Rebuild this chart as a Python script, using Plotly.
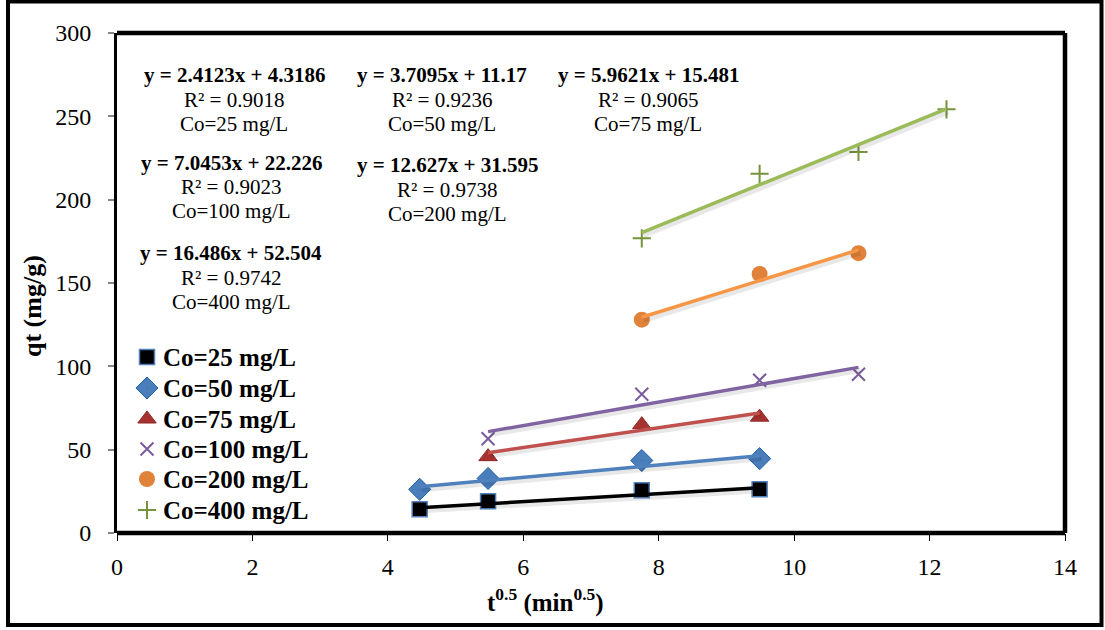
import plotly.graph_objects as go

# ---- data -------------------------------------------------------------
series_names = ["Co=25 mg/L", "Co=50 mg/L", "Co=75 mg/L",
                "Co=100 mg/L", "Co=200 mg/L", "Co=400 mg/L"]

x_25 = [4.47, 5.48, 7.75, 9.49]
y_25 = [14.3, 19.0, 25.6, 26.2]
x_50 = [4.47, 5.48, 7.75, 9.49]
y_50 = [26.2, 32.7, 43.5, 44.6]
x_75 = [5.48, 7.75, 9.49]
y_75 = [45.8, 65.0, 69.5]
x_100 = [5.48, 7.75, 9.49, 10.95]
y_100 = [56.5, 83.3, 91.7, 95.2]
x_200 = [7.75, 9.49, 10.95]
y_200 = [128.0, 155.4, 167.9]
x_400 = [7.75, 9.49, 10.95, 12.25]
y_400 = [176.8, 215.5, 228.6, 254.2]

slopes = [2.4123, 3.7095, 5.9621, 7.0453, 12.627, 16.486]
intercepts = [4.3186, 11.17, 15.481, 22.226, 31.595, 52.504]
r_squared = [0.9018, 0.9236, 0.9065, 0.9023, 0.9738, 0.9742]

x_ticks = [0, 2, 4, 6, 8, 10, 12, 14]
y_ticks = [0, 50, 100, 150, 200, 250, 300]

# ---- styling ----------------------------------------------------------
xs = [x_25, x_50, x_75, x_100, x_200, x_400]
ys = [y_25, y_50, y_75, y_100, y_200, y_400]
line_colors = ["#000000", "#4F81BD", "#C0504D", "#8064A2", "#F79646", "#9BBB59"]
markers = [
    dict(symbol="square", size=15, color="#000000", line=dict(color="#4F81BD", width=1.5)),
    dict(symbol="diamond-dot", size=17, color="#4A7EBB", line=dict(color="#1F5FA8", width=1)),
    dict(symbol="triangle-up", size=16, color="#A8322F", line=dict(color="#8C2623", width=1)),
    dict(symbol="x-thin", size=13, color="#7A5C9C", line=dict(color="#7A5C9C", width=2)),
    dict(symbol="circle", size=16, color="#E0823A", line=dict(color="#E0823A", width=0)),
    dict(symbol="cross-thin", size=13, color="#77933C", line=dict(color="#77933C", width=2)),
]

serif = "Liberation Serif, Times New Roman, serif"

# plot-area geometry in pixels
W, H = 1105, 630
L, R, T, B = 117, 40, 33, 97
PW, PH = W - L - R, H - T - B
X_MAX, Y_MAX = 14, 300


def px_to_paper(px, py):
    return (px - L) / PW, (H - B - py) / PH


fig = go.Figure()

# measured points
for name, x, y, mk in zip(series_names, xs, ys, markers):
    fig.add_trace(go.Scatter(x=x, y=y, mode="markers", name=name, marker=mk,
                             showlegend=False, cliponaxis=False))

# linear trendlines with a soft drop shadow
dx = 2 * X_MAX / PW
dy = -3 * Y_MAX / PH
for x, m, c, col in zip(xs, slopes, intercepts, line_colors):
    xl = [min(x), max(x)]
    yl = [m * v + c for v in xl]
    fig.add_trace(go.Scatter(x=[v + dx for v in xl], y=[v + dy for v in yl],
                             mode="lines", line=dict(color="rgba(0,0,0,0.09)", width=5),
                             showlegend=False, hoverinfo="skip"))
    fig.add_trace(go.Scatter(x=xl, y=yl, mode="lines",
                             line=dict(color=col, width=3.5),
                             showlegend=False, hoverinfo="skip"))

# legend: symbol swatches on a pixel-space overlay, labels as text
legend_rows = [357, 388, 419, 449, 479, 510]
legend_sym_x = 147
legend_txt_x = 161
for name, mk, ry in zip(series_names, markers, legend_rows):
    fig.add_trace(go.Scatter(x=[legend_sym_x - L], y=[H - B - ry], mode="markers",
                             marker=mk, xaxis="x2", yaxis="y2", showlegend=False,
                             hoverinfo="skip", cliponaxis=False))
    ax, ay = px_to_paper(legend_txt_x, ry)
    fig.add_annotation(x=ax, y=ay, xref="paper", yref="paper", text=f"<b>{name}</b>",
                       showarrow=False, xanchor="left", yanchor="middle",
                       font=dict(family=serif, size=25, color="#000000"))

# trendline equations
label_pos = [(234, [75, 100, 124]), (442, [75, 100, 124]), (648, [75, 100, 124]),
             (231, [163, 187, 211]), (447, [165, 190, 214]), (231, [253, 278, 302])]
for name, m, c, r2, (cx, rows) in zip(series_names, slopes, intercepts, r_squared, label_pos):
    texts = [f"<b>y = {m:g}x + {c:g}</b>", f"R² = {r2:g}", name]
    for txt, ry in zip(texts, rows):
        ax, ay = px_to_paper(cx, ry)
        fig.add_annotation(x=ax, y=ay, xref="paper", yref="paper", text=txt,
                           showarrow=False, xanchor="center", yanchor="middle",
                           font=dict(family=serif, size=21, color="#000000"))

# axis titles
tx, ty = px_to_paper(545, 600)
fig.add_annotation(x=tx, y=ty, xref="paper", yref="paper",
                   text="<b>t<sup>0.5</sup> (min<sup>0.5</sup>)</b>", showarrow=False,
                   xanchor="center", yanchor="middle",
                   font=dict(family=serif, size=25, color="#000000"))
tx, ty = px_to_paper(32, 306)
fig.add_annotation(x=tx, y=ty, xref="paper", yref="paper", text="<b>qt (mg/g)</b>",
                   showarrow=False, textangle=-90, xanchor="center", yanchor="middle",
                   font=dict(family=serif, size=26, color="#000000"))

# plot frame (thick top / right / bottom)
for x0, y0, x1, y1 in [(0, 1, 1, 1), (1, 0, 1, 1), (0, 0, 1, 0)]:
    fig.add_shape(type="line", xref="paper", yref="paper", x0=x0, y0=y0, x1=x1, y1=y1,
                  line=dict(color="#000000", width=4.5))

# outer border of the figure
ox0, oy0 = px_to_paper(8, 625)
ox1, oy1 = px_to_paper(1101.5, 1.5)
fig.add_shape(type="rect", xref="paper", yref="paper", x0=ox0, y0=oy0, x1=ox1, y1=oy1,
              line=dict(color="#000000", width=4))

fig.update_layout(
    width=W, height=H,
    margin=dict(l=L, r=R, t=T, b=B),
    paper_bgcolor="white", plot_bgcolor="white",
    font=dict(family=serif, color="#000000"),
    showlegend=False,
    xaxis=dict(range=[0, X_MAX], tickvals=x_ticks, ticks="outside", ticklen=7,
               tickcolor="#000000", tickwidth=1, showgrid=False, zeroline=False,
               showline=False, ticklabelstandoff=5,
               tickfont=dict(family=serif, size=24, color="#000000")),
    yaxis=dict(range=[0, Y_MAX], tickvals=y_ticks, ticks="outside", ticklen=6,
               tickcolor="#868686", tickwidth=1.5, showgrid=False, zeroline=False,
               showline=True, linecolor="#000000", linewidth=3, ticklabelstandoff=12,
               tickfont=dict(family=serif, size=24, color="#000000")),
    xaxis2=dict(overlaying="x", range=[0, PW], visible=False, fixedrange=True),
    yaxis2=dict(overlaying="y", range=[0, PH], visible=False, fixedrange=True),
)

fig.write_html("out.html")
